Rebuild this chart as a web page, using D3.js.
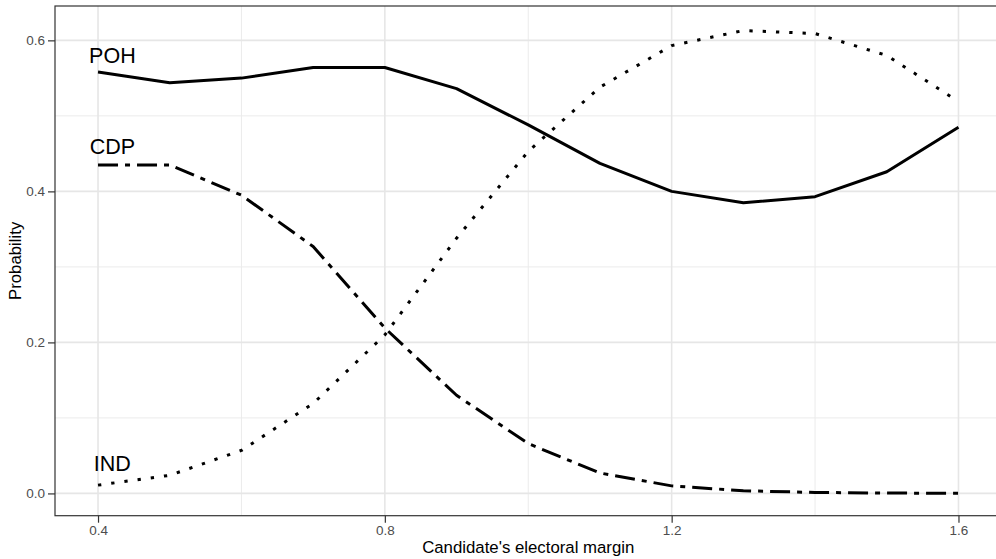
<!DOCTYPE html>
<html>
<head>
<meta charset="utf-8">
<script src="https://cdn.jsdelivr.net/npm/d3@7"></script>
<style>
  body { margin: 0; background: #fff; }
  svg { display: block; font-family: "Liberation Sans", Arial, sans-serif; }
</style>
</head>
<body>
<svg id="chart" width="996" height="559"></svg>
<script>
// margins, step 0.1
var margins = [0.4, 0.5, 0.6, 0.7, 0.8, 0.9, 1.0, 1.1, 1.2, 1.3, 1.4, 1.5, 1.6];
var poh = [0.558, 0.544, 0.550, 0.564, 0.564, 0.536, 0.488, 0.437, 0.400, 0.385, 0.393, 0.426, 0.485];
var cdp = [0.435, 0.435, 0.395, 0.327, 0.219, 0.130, 0.066, 0.027, 0.010, 0.0035, 0.0013, 0.0005, 0.0002];
var ind = [0.011, 0.024, 0.057, 0.119, 0.210, 0.338, 0.453, 0.538, 0.593, 0.613, 0.609, 0.580, 0.519];

var xTicks = [0.4, 0.8, 1.2, 1.6];
var xMinor = [0.6, 1.0, 1.4];
var yTicks = [0.0, 0.2, 0.4, 0.6];
var yMinor = [0.1, 0.3, 0.5];

var series = [
  {name: "POH", values: poh, dash: null, labelY: 0.58},
  {name: "CDP", values: cdp, dash: "20,7,5,7", labelY: 0.46},
  {name: "IND", values: ind, dash: "3.3,10", labelY: 0.04}
];
var labelX = 0.42;

var panel = {left: 55, top: 6, right: 1001.5, bottom: 515.7};

var svg = d3.select("#chart");

var x = d3.scaleLinear().domain([0.34, 1.66]).range([panel.left, panel.right]);
var y = d3.scaleLinear().domain([-0.0295, 0.6455]).range([panel.bottom, panel.top]);

var g = svg.append("g");

// grid
g.selectAll("line.minx").data(xMinor).enter().append("line")
  .attr("x1", function(d){ return x(d); }).attr("x2", function(d){ return x(d); })
  .attr("y1", panel.top).attr("y2", panel.bottom)
  .attr("stroke", "#ebebeb").attr("stroke-width", 1);
g.selectAll("line.miny").data(yMinor).enter().append("line")
  .attr("y1", function(d){ return y(d); }).attr("y2", function(d){ return y(d); })
  .attr("x1", panel.left).attr("x2", panel.right)
  .attr("stroke", "#ebebeb").attr("stroke-width", 1);
g.selectAll("line.majx").data(xTicks).enter().append("line")
  .attr("x1", function(d){ return x(d); }).attr("x2", function(d){ return x(d); })
  .attr("y1", panel.top).attr("y2", panel.bottom)
  .attr("stroke", "#e6e6e6").attr("stroke-width", 1.6);
g.selectAll("line.majy").data(yTicks).enter().append("line")
  .attr("y1", function(d){ return y(d); }).attr("y2", function(d){ return y(d); })
  .attr("x1", panel.left).attr("x2", panel.right)
  .attr("stroke", "#e6e6e6").attr("stroke-width", 1.6);

// lines
var line = d3.line()
  .x(function(d, i){ return x(margins[i]); })
  .y(function(d){ return y(d); });

series.forEach(function(s){
  var p = g.append("path")
    .attr("d", line(s.values))
    .attr("fill", "none")
    .attr("stroke", "#000")
    .attr("stroke-width", 3)
    .attr("stroke-linejoin", "round");
  if (s.dash) p.attr("stroke-dasharray", s.dash);
  g.append("text")
    .attr("x", x(labelX)).attr("y", y(s.labelY))
    .attr("dy", "0.36em")
    .attr("text-anchor", "middle")
    .attr("font-size", "21.5px")
    .attr("fill", "#000")
    .text(s.name);
});

// panel border
g.append("rect")
  .attr("x", panel.left).attr("y", panel.top)
  .attr("width", panel.right - panel.left).attr("height", panel.bottom - panel.top)
  .attr("fill", "none").attr("stroke", "#333").attr("stroke-width", 1.2);

// axes
var fmt = d3.format(".1f");
var xAxis = svg.append("g")
  .attr("transform", "translate(0," + panel.bottom + ")")
  .call(d3.axisBottom(x).tickValues(xTicks).tickFormat(fmt).tickSize(7).tickPadding(3));
var yAxis = svg.append("g")
  .attr("transform", "translate(" + panel.left + ",0)")
  .call(d3.axisLeft(y).tickValues(yTicks).tickFormat(fmt).tickSize(7).tickPadding(3));

[xAxis, yAxis].forEach(function(a){
  a.select(".domain").remove();
  a.selectAll(".tick line").attr("stroke", "#333").attr("stroke-width", 1.2);
  a.selectAll(".tick text")
    .attr("fill", "#4d4d4d")
    .attr("font-size", "13.5px")
    .attr("font-family", "Liberation Sans, Arial, sans-serif");
});

svg.append("text")
  .attr("x", (panel.left + panel.right) / 2).attr("y", 553)
  .attr("text-anchor", "middle")
  .attr("font-size", "16.8px")
  .text("Candidate's electoral margin");

svg.append("text")
  .attr("transform", "translate(20.5," + ((panel.top + panel.bottom) / 2) + ") rotate(-90)")
  .attr("text-anchor", "middle")
  .attr("font-size", "16.8px")
  .text("Probability");
</script>
</body>
</html>
